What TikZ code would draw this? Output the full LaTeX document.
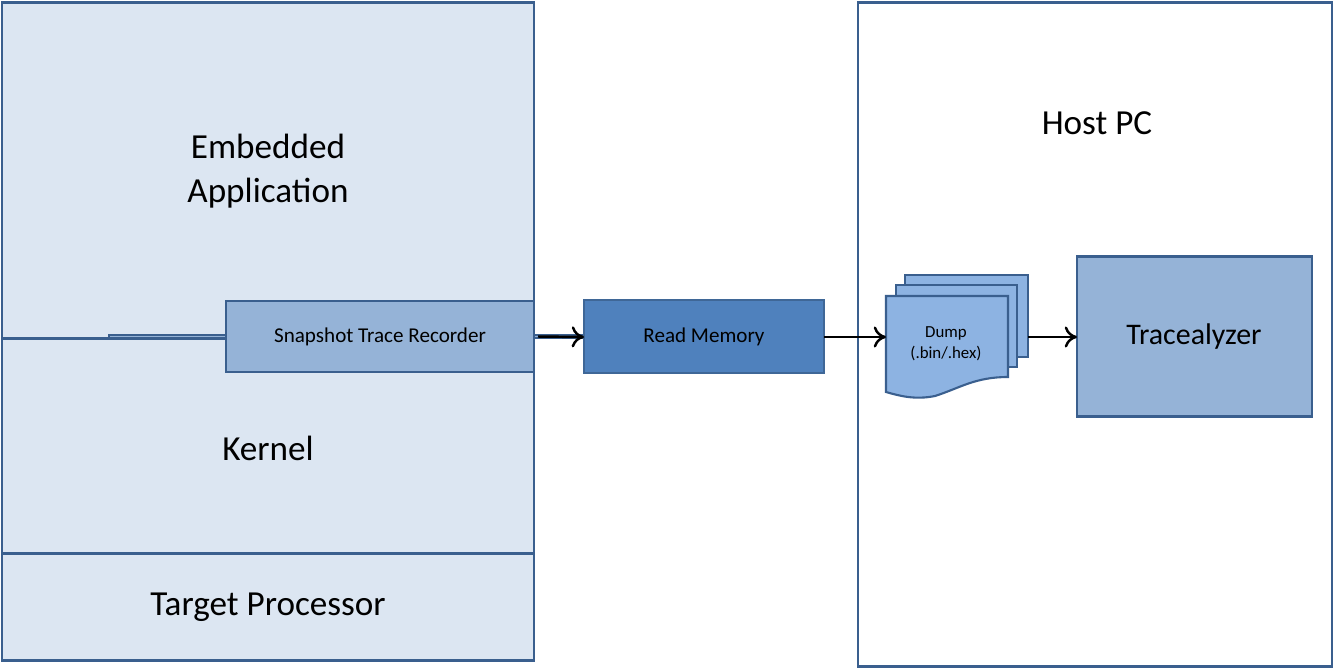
\documentclass[tikz,border=0pt]{standalone}
\usepackage{fontspec}
\setmainfont{Carlito}
\usetikzlibrary{arrows.meta,positioning}
\definecolor{paleblue}{HTML}{DCE6F2}
\definecolor{midblue}{HTML}{95B3D7}
\definecolor{darkblue}{HTML}{4F81BD}
\definecolor{docblue}{HTML}{8DB3E2}
\definecolor{edgeblue}{HTML}{3A5F8E}
\tikzset{
  block/.style={draw=edgeblue, line width=0.85pt},
  flow/.style={-{To[length=3.5pt,width=6pt]}, line width=0.7pt},
  page/.style={draw=edgeblue, line width=0.6pt, fill=docblue},
}
\begin{document}
\begin{tikzpicture}[x=0.01cm,y=-0.01cm]
\useasboundingbox (0,0) rectangle (1338,669);
% target side
\draw[block, fill=paleblue] (2,2) rectangle (534,660);
\draw[block] (2,553) -- (534,553);
\draw[block] (2,338) -- (226,338);
\node[font=\fontsize{10pt}{12.5pt}\selectfont, align=center] (app) at (268,171) {Embedded\\Application};
\node[font=\fontsize{10pt}{12pt}\selectfont] (kernel) at (268,448) {Kernel};
\node[font=\fontsize{10pt}{12pt}\selectfont] (cpu) at (268,607) {Target Processor};
\node[block, fill=midblue, line width=0.5pt, minimum width=308\pgflinewidth, inner sep=0pt,
  font=\fontsize{6pt}{7pt}\selectfont] (rec) at (380,336.5) {};
\draw[block, fill=midblue, line width=0.5pt] (226,301) rectangle (534,372);
\node[font=\fontsize{6pt}{7pt}\selectfont] (rec) at (380,336.5) {Snapshot Trace Recorder};
\coordinate (recE) at (534,336.5);
% transfer
\draw[draw=darkblue!80!black, line width=0.5pt, fill=darkblue] (584,300) rectangle (824,373);
\node[font=\fontsize{6pt}{7pt}\selectfont] (read) at (704,337) {Read Memory};
\coordinate (readW) at (584,337);
\coordinate (readE) at (824,337);
% host side
\draw[block, fill=white] (858,2) rectangle (1332,666);
\node[font=\fontsize{10pt}{12pt}\selectfont] (host) at (1097,123) {Host PC};
\draw[page] (905,275) rectangle (1028,357);
\draw[page] (896,285) rectangle (1017,367);
\draw[page] (886,296) -- (1008,296) -- (1008,377)
  .. controls (975,377) and (960,388) .. (935,396)
  .. controls (915,400) and (900,396) .. (886,392) -- cycle;
\node[font=\fontsize{4.8pt}{6pt}\selectfont, align=center] (dump) at (946,344) {Dump\\(.bin/.hex)};
\coordinate (dumpW) at (886,337);
\coordinate (dumpE) at (1028,337);
\draw[block, fill=midblue] (1077,256) rectangle (1312,416);
\node[font=\fontsize{8.5pt}{10pt}\selectfont] (tool) at (1194,337) {Tracealyzer};
\coordinate (toolW) at (1077,337);
% arrows
\draw[flow] (recE) ++(4,0) -- (readW);
\draw[flow] (readE) -- (dumpW);
\draw[flow] (dumpE) -- (toolW);
\end{tikzpicture}
\end{document}
